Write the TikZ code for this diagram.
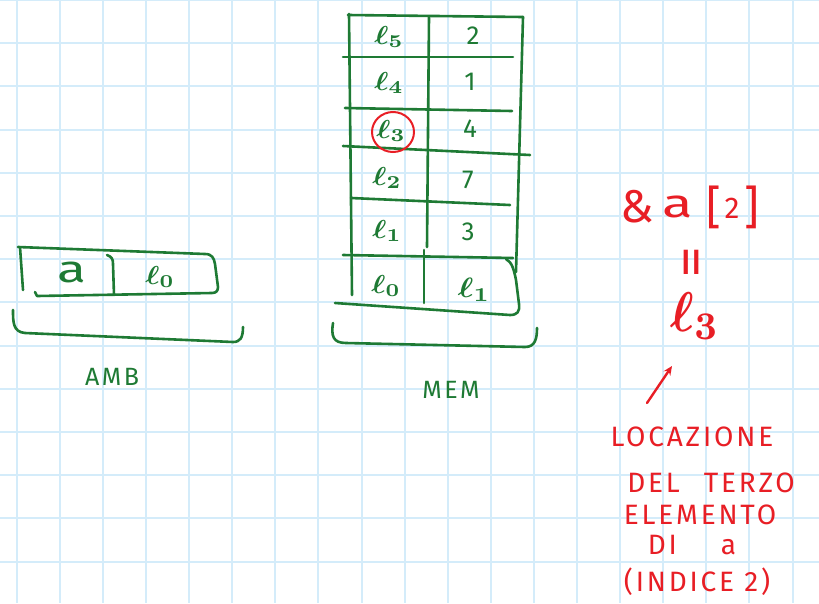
\documentclass[tikz,border=0pt]{standalone}
\usepackage{graphicx}
\usepackage{fontspec}
\setmainfont{Fira Sans}
\newfontfamily\hand[LetterSpace=10]{Fira Sans}
\usetikzlibrary{arrows.meta}
\definecolor{gridblue}{HTML}{D4ECFA}
\definecolor{inkgreen}{HTML}{1E7A34}
\definecolor{inkred}{HTML}{E81E25}
% script l with an index, magnified from the 10pt size: [x scale]{y scale}{index}
\newcommand{\lsub}[3][3]{\scalebox{#1}[#2]{\normalsize\boldmath$\ell_{#3}$}}
\tikzset{
  gridline/.style={draw=gridblue, line width=2pt},
  greenink/.style={draw=inkgreen, line width=2.6pt, line cap=round, line join=round},
  redink/.style={draw=inkred, line width=2.4pt, line cap=round, line join=round},
  cell/.style={text=inkgreen, inner sep=0pt, font=\fontsize{26}{26}\selectfont},
  gnote/.style={text=inkgreen, inner sep=0pt, font=\hand\fontsize{25}{25}\selectfont},
  rnote/.style={text=inkred, inner sep=0pt, font=\hand\fontsize{28}{28}\selectfont},
  rbig/.style={text=inkred, inner sep=0pt, font=\fontsize{34}{34}\selectfont},
}
\begin{document}
\begin{tikzpicture}[x=1pt,y=-1pt]
\useasboundingbox (0,0) rectangle (819,603);
\fill[white] (0,0) rectangle (819,603);
% squared paper
\foreach \k in {0,...,18} \draw[gridline] ({16.7+43.1*\k},0) -- ++(0,603);
\foreach \k in {0,...,13} \draw[gridline] (0,{43.2*\k}) -- ++(819,0);

% ---------- environment: a -> l0 ----------
\draw[greenink] (20,247) -- (23,290);
\draw[greenink] (18,247) -- (205,254) .. controls (212,254) and (214,258) .. (215,264)
  -- (218,287) .. controls (218,291) and (216,293) .. (212,293) -- (37,296) -- (35,292);
\draw[greenink] (107,255) .. controls (112,257) and (113,259) .. (113,264) -- (114,295);
\node[cell, font=\fontsize{38}{38}\selectfont] (va) at (72,272) {\scalebox{1.4}[1]{a}};
\node[cell] (vl0) at (160,277) {\lsub{2.6}{0}};
\draw[greenink] (13,310) .. controls (13,322) and (13,332) .. (25,333) -- (233,342)
  .. controls (240,342) and (243,338) .. (243,327);
\node[gnote] (amb) at (112,377) {AMB};

% ---------- memory ----------
\draw[greenink] (348,15) -- (523,17);
\draw[greenink] (523,17) -- (516,272);
\draw[greenink] (349,14) -- (352,295);
\draw[greenink] (343,57) -- (513,57);
\draw[greenink] (345,108) -- (512,111);
\draw[greenink] (343,146) -- (530,155);
\draw[greenink] (351,198) -- (510,205);
\draw[greenink] (343,255) -- (513,258);
\draw[greenink] (429,17) -- (427,247);
\draw[greenink] (424,250) -- (424,303);
\draw[greenink] (506,259) .. controls (512,262) and (514,270) .. (516,280)
  -- (519,304) .. controls (520,312) and (517,315) .. (510,315) -- (335,303);
\draw[greenink] (333,323) .. controls (331,336) and (333,343) .. (346,343) -- (525,347)
  .. controls (535,347) and (537,339) .. (537,328);
\node[gnote] (mem) at (451,390) {MEM};

\node[cell] (l5) at (389,37) {\lsub{2.6}{5}};
\node[cell] (l4) at (389,83) {\lsub{2.6}{4}};
\node[cell] (l3) at (391,131) {\lsub{2.6}{3}};
\node[cell] (l2) at (387,178) {\lsub{2.6}{2}};
\node[cell] (l1) at (387,231) {\lsub{2.6}{1}};
\node[cell] (l0) at (386,286) {\lsub{2.6}{0}};
\node[cell] (v5) at (473,36) {2};
\node[cell] (v4) at (470,82) {1};
\node[cell] (v3) at (470,129) {4};
\node[cell] (v2) at (468,180) {7};
\node[cell] (v1) at (468,232) {3};
\node[cell] (v0) at (474,290) {\lsub[3.3]{2.8}{1}};
\draw[redink, line width=2pt] (393,132) ellipse [x radius=21, y radius=20];

% ---------- address expression ----------
\node[rbig, font=\fontsize{46}{46}\selectfont] (amp) at (637,207) {\&};
\node[rbig, font=\fontsize{40}{40}\selectfont] (ra) at (678,207) {\scalebox{1.4}[1]{a}};
\node[rbig, font=\fontsize{46}{46}\selectfont] (lbr) at (714,207) {[};
\node[rbig, font=\fontsize{30}{30}\selectfont] (two) at (732,208) {2};
\node[rbig, font=\fontsize{46}{46}\selectfont] (rbr) at (752,207) {]};
\node[rbig, font=\fontsize{34}{34}\selectfont, rotate=90] (eq) at (697,262) {\scalebox{1.9}[1.6]{=}};
\node[rbig] (r3) at (695,316) {\lsub[5]{5.6}{3}};
\coordinate (tail) at (647,403);
\coordinate (tip) at (672,366);
\draw[redink, -{Stealth[length=9pt,width=8pt]}] (tail) -- (tip);

\node[rnote] (t1) at (692,437) {LOCAZIONE};
\node[rnote] (t2) at (711,483) {DEL\hspace{24pt}TERZO};
\node[rnote] (t3) at (700,515) {ELEMENTO};
\node[rnote] (t4) at (692,545) {DI\hspace{44pt}a};
\node[rnote] (t5) at (697,582) {(INDICE 2)};
\end{tikzpicture}
\end{document}
